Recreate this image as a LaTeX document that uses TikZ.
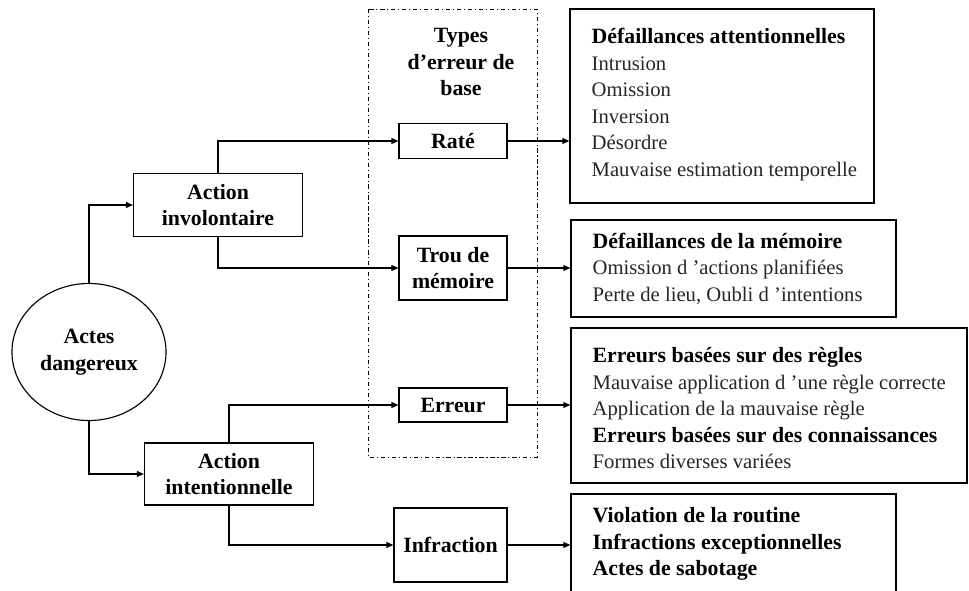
\documentclass[tikz,border=0pt]{standalone}
\usepackage{fontspec}
\setmainfont{Liberation Serif}
\usepackage{tikz}
\usetikzlibrary{shapes.geometric,arrows.meta,positioning,calc}

\newcommand{\headline}[1]{{\fontsize{15.5}{18.9}\selectfont\bfseries\color{black}#1}}

\begin{document}
\begin{tikzpicture}[
  x=0.025cm, y=-0.025cm,
  every node/.style={font=\fontsize{14.7}{18.9}\selectfont},
  box/.style={draw, line width=0.8pt, align=center, inner sep=2pt,
              font=\fontsize{15.5}{18.9}\selectfont\bfseries},
  listbox/.style={draw, line width=0.8pt, inner sep=0pt},
  listtext/.style={anchor=west, xshift=5.5mm, align=left, inner sep=0pt,
                   text=black!85},
  conn/.style={line width=0.8pt},
  arr/.style={conn, -{Triangle[length=5pt,width=4.2pt]}},
  typesframe/.style={line width=0.7pt, dash pattern=on 3pt off 2pt on 0.8pt off 2pt}
]
\clip (0,0) rectangle (969,591);

\node[ellipse, draw, line width=0.8pt, minimum width=38.5mm, minimum height=34.25mm,
      align=center, font=\fontsize{15.5}{18.9}\selectfont\bfseries]
  (dang) at (89,352) {Actes\\dangereux};
\node[box, minimum width=42.25mm, minimum height=15.75mm] (invol) at (218,205)
  {Action\\involontaire};
\node[box, minimum width=42.25mm, minimum height=15.5mm] (intent) at (229,474)
  {Action\\intentionnelle};

\draw[typesframe] (368,9) rectangle (537,457);
\node[align=center, font=\fontsize{15.5}{18.9}\selectfont\bfseries] (types) at (461,62)
  {Types\\d'erreur de\\base};

\node[box, minimum width=27mm, minimum height=8.75mm] (rate) at (453,141) {Raté};
\node[box, minimum width=27mm, minimum height=16mm] (trou) at (453,268) {Trou de\\mémoire};
\node[box, minimum width=27mm, minimum height=8.5mm] (erreur) at (453,405) {Erreur};
\node[box, minimum width=28.25mm, minimum height=18.5mm] (infr) at (450.5,545) {Infraction};

\node[listbox, minimum width=76mm, minimum height=48.5mm,
      label={[listtext, yshift=0.4mm]west:{\headline{Défaillances attentionnelles}\\Intrusion\\Omission\\Inversion\\Désordre\\Mauvaise estimation temporelle}}]
  (att) at (722,106) {};
\node[listbox, minimum width=81.25mm, minimum height=24.25mm,
      label={[listtext]west:{\headline{Défaillances de la mémoire}\\Omission d 'actions planifiées\\Perte de lieu, Oubli d 'intentions}}]
  (mem) at (733.5,268.5) {};
\node[listbox, minimum width=99mm, minimum height=38.75mm,
      label={[listtext, yshift=-0.7mm]west:{\headline{Erreurs basées sur des règles}\\Mauvaise application d 'une règle correcte\\Application de la mauvaise règle\\\headline{Erreurs basées sur des connaissances}\\Formes diverses variées}}]
  (regl) at (769,405.5) {};
\node[listbox, minimum width=81.25mm, minimum height=25mm,
      label={[listtext, font=\fontsize{15.5}{18.9}\selectfont\bfseries, text=black]west:{Violation de la routine\\Infractions exceptionnelles\\Actes de sabotage}}]
  (viol) at (733.5,544) {};

\draw[arr] (dang.north) |- (invol.west);
\draw[arr] (dang.south) |- (intent.west);
\draw[arr] (invol.north) |- (rate.west);
\draw[arr] (invol.south) |- (trou.west);
\draw[arr] (intent.north) |- (erreur.west);
\draw[arr] (intent.south) |- (infr.west);

\draw[arr] (rate.east) -- (rate.east -| att.west);
\draw[arr] (trou.east) -- (trou.east -| mem.west);
\draw[arr] (erreur.east) -- (erreur.east -| regl.west);
\draw[arr] (infr.east) -- (infr.east -| viol.west);
\end{tikzpicture}
\end{document}
